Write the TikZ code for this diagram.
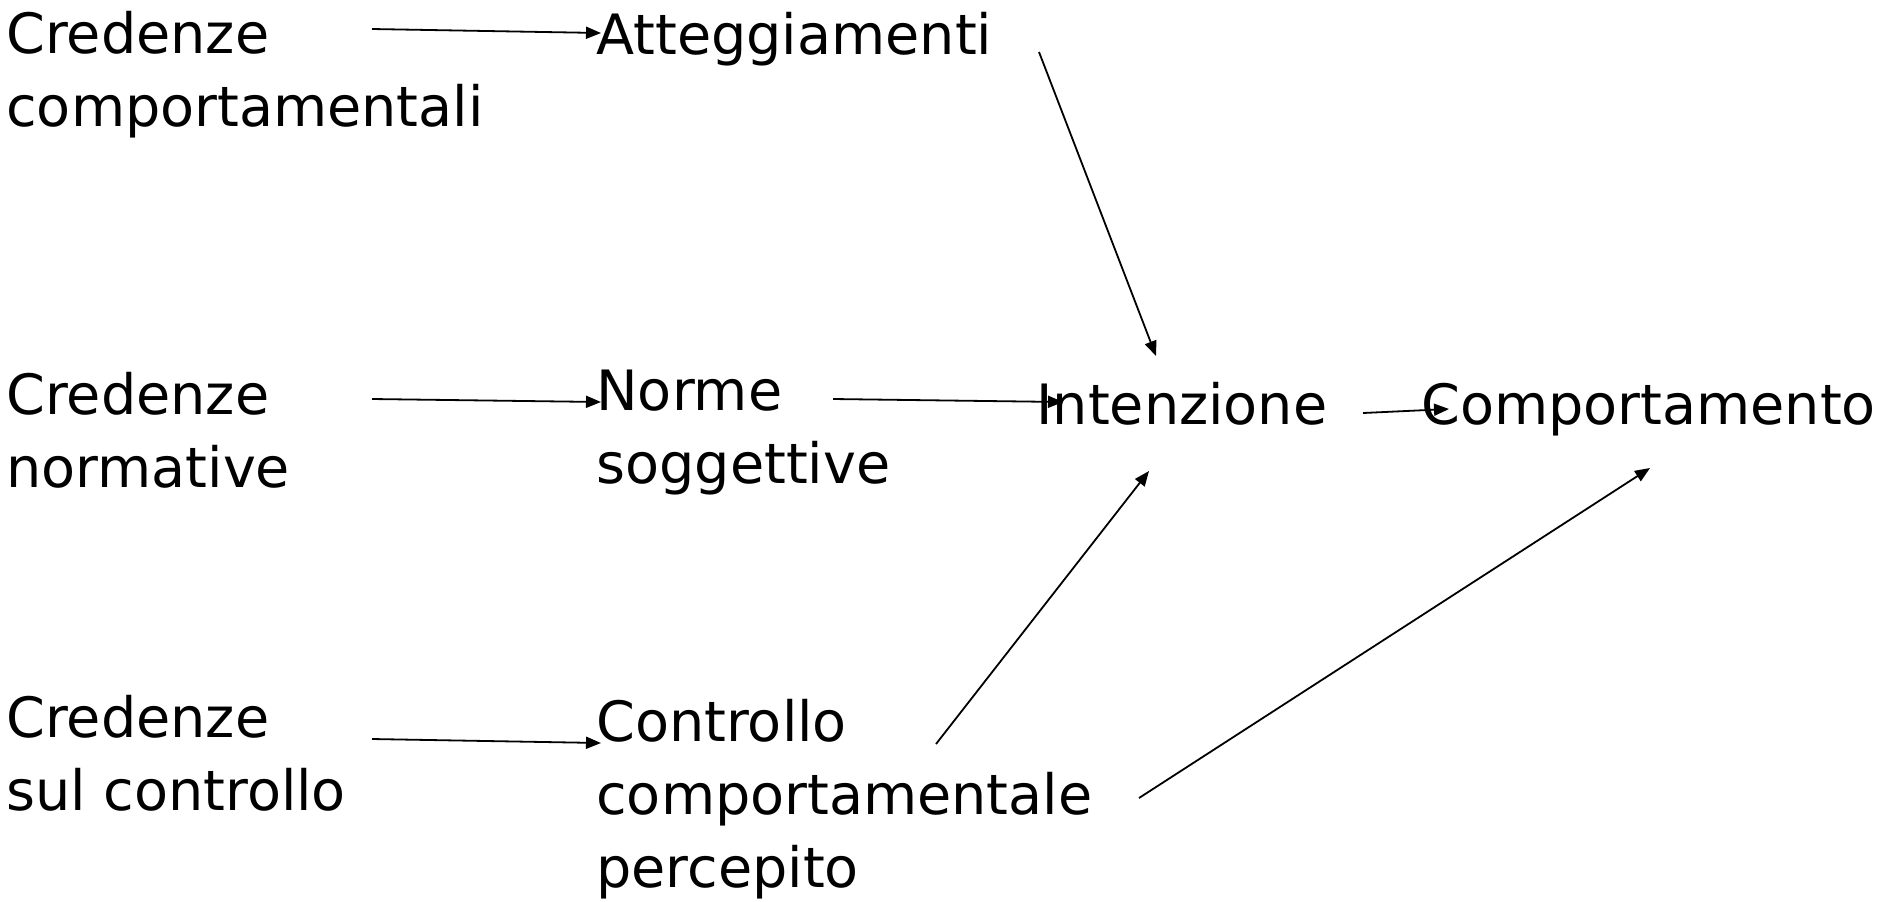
\documentclass[tikz,border=0pt]{standalone}
\usepackage{fontspec}
\setmainfont{DejaVu Sans}
\usetikzlibrary{arrows.meta}
\begin{document}
\begin{tikzpicture}[x=0.5pt,y=-0.5pt,
  lbl/.style={anchor=base west,inner sep=0pt,align=left,font=\fontsize{27.8}{36.5}\selectfont},
  arr/.style={-{Triangle[length=7.5pt,width=6pt]},line width=0.9pt}]
\useasboundingbox (0,0) rectangle (1888,901);
% labels (anchored at the baseline of their last line)
\node[lbl] (cbc)   at (6,126)    {Credenze\\comportamentali};
\node[lbl] (att)   at (596,54)   {Atteggiamenti};
\node[lbl] (cn)    at (6,487)    {Credenze\\normative};
\node[lbl] (norme) at (596,483)  {Norme\\soggettive};
\node[lbl] (int)   at (1036,424) {Intenzione};
\node[lbl] (comp)  at (1421,424) {Comportamento};
\node[lbl] (cc)    at (6,810)    {Credenze\\sul controllo};
\node[lbl] (ctrl)  at (596,887)  {Controllo\\comportamentale\\percepito};
% connector end points
\coordinate (cbc-out)   at (372,29);
\coordinate (att-in)    at (601,33);
\coordinate (att-out)   at (1039,52);
\coordinate (int-in1)   at (1156,356);
\coordinate (cn-out)    at (372,399);
\coordinate (norme-in)  at (601,402);
\coordinate (norme-out) at (833,399);
\coordinate (int-in2)   at (1063,402);
\coordinate (int-out)   at (1363,413);
\coordinate (comp-in1)  at (1449,409);
\coordinate (ctrl-out1) at (936,744);
\coordinate (int-in3)   at (1149,471);
\coordinate (ctrl-out2) at (1139,798);
\coordinate (comp-in2)  at (1650,468);
\coordinate (cc-out)    at (372,739);
\coordinate (ctrl-in)   at (601,743);
% connectors
\draw[arr] (cbc-out) -- (att-in);
\draw[arr] (att-out) -- (int-in1);
\draw[arr] (cn-out) -- (norme-in);
\draw[arr] (norme-out) -- (int-in2);
\draw[arr] (int-out) -- (comp-in1);
\draw[arr] (ctrl-out1) -- (int-in3);
\draw[arr] (ctrl-out2) -- (comp-in2);
\draw[arr] (cc-out) -- (ctrl-in);
\end{tikzpicture}
\end{document}
